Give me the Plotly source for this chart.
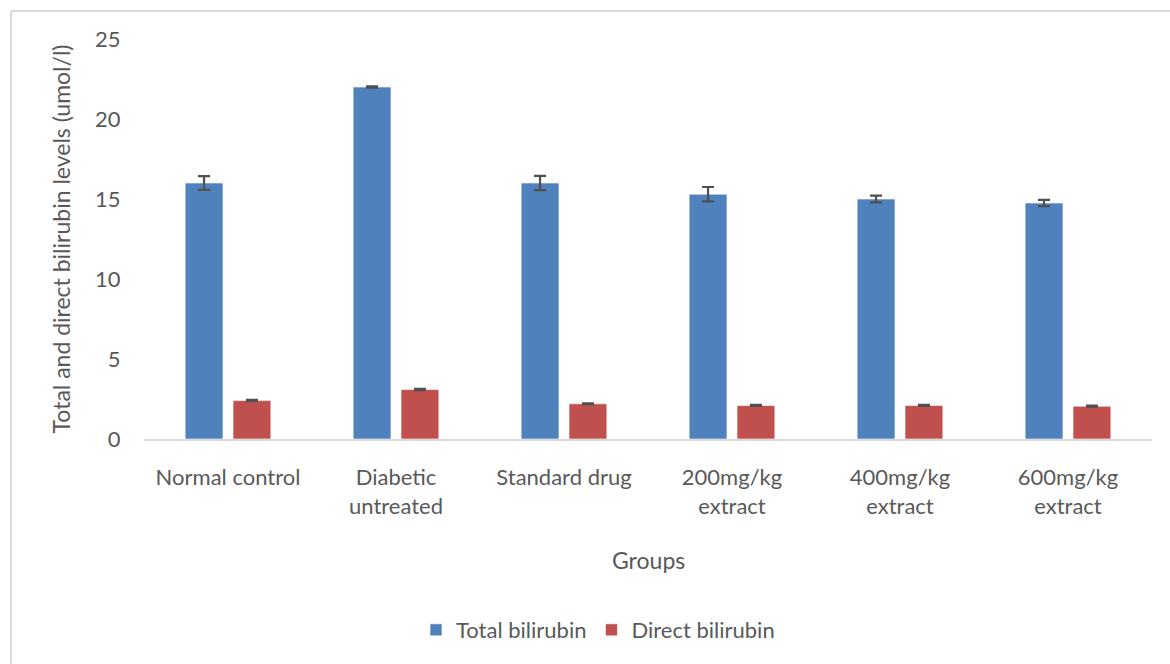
import plotly.graph_objects as go

groups = ["Normal control", "Diabetic<br>untreated", "Standard drug",
          "200mg/kg<br>extract", "400mg/kg<br>extract", "600mg/kg<br>extract"]
total_bilirubin = [16.0, 22.0, 16.0, 15.3, 15.0, 14.75]
total_err = [0.43, 0.04, 0.45, 0.45, 0.21, 0.19]
direct_bilirubin = [2.4, 3.1, 2.2, 2.1, 2.1, 2.05]
direct_err = [0.04, 0.04, 0.03, 0.03, 0.03, 0.03]

W, H = 1170, 664
L, R, T, B = 144, 18, 39, 225
pw, ph = W - L - R, H - T - B

def px_x(x):
    return (x - L) / pw

def px_y(y):
    return (H - B - y) / ph

font = "Lato"
grey = "#595959"
fs = 22

fig = go.Figure()
fig.add_trace(go.Bar(
    x=groups, y=total_bilirubin, name="Total bilirubin",
    marker=dict(color="#4F81BD", line=dict(color="rgba(255,255,255,0.6)", width=1)),
    error_y=dict(type="data", array=total_err, color="#505050", thickness=2.2, width=6),
))
fig.add_trace(go.Bar(
    x=groups, y=direct_bilirubin, name="Direct bilirubin",
    marker=dict(color="#C0504D", line=dict(color="rgba(255,255,255,0.6)", width=1)),
    error_y=dict(type="data", array=direct_err, color="#505050", thickness=2.2, width=6),
))

fig.update_layout(
    width=W, height=H,
    margin=dict(l=L, r=R, t=T, b=B),
    paper_bgcolor="white", plot_bgcolor="white",
    barmode="group", bargap=0.43, bargroupgap=0.21,
    font=dict(family=font, size=fs, color=grey),
    showlegend=True,
    legend=dict(orientation="h", x=px_x(598), y=px_y(630),
                xanchor="center", yanchor="middle",
                font=dict(family=font, size=fs, color=grey),
                itemwidth=30, traceorder="normal"),
    xaxis=dict(showgrid=False, showline=True, linecolor="#d9d9d9", linewidth=2,
               ticks="outside", ticklen=18, tickcolor="rgba(0,0,0,0)",
               tickfont=dict(family=font, size=fs, color=grey)),
    yaxis=dict(range=[0, 25], dtick=5, showgrid=False, zeroline=False, showline=False,
               ticks="outside", ticklen=18, tickcolor="rgba(0,0,0,0)",
               tickfont=dict(family=font, size=fs, color=grey),
               title=dict(text="Total and direct bilirubin levels (umol/l)",
                          font=dict(family=font, size=23, color=grey), standoff=18)),
    annotations=[dict(text="Groups", x=px_x(648), y=px_y(560), xref="paper", yref="paper",
                      showarrow=False, xanchor="center", yanchor="middle",
                      font=dict(family=font, size=23, color=grey))],
    shapes=[
        dict(type="line", xref="paper", yref="paper", x0=px_x(11), x1=px_x(11),
             y0=px_y(11), y1=px_y(680), line=dict(color="#d9d9d9", width=2)),
        dict(type="line", xref="paper", yref="paper", x0=px_x(11), x1=px_x(1190),
             y0=px_y(11), y1=px_y(11), line=dict(color="#d9d9d9", width=2)),
    ],
)

fig.write_html("out.html", config={"displayModeBar": False},
               post_script="document.body.style.margin='0';document.body.style.overflow='hidden';")
